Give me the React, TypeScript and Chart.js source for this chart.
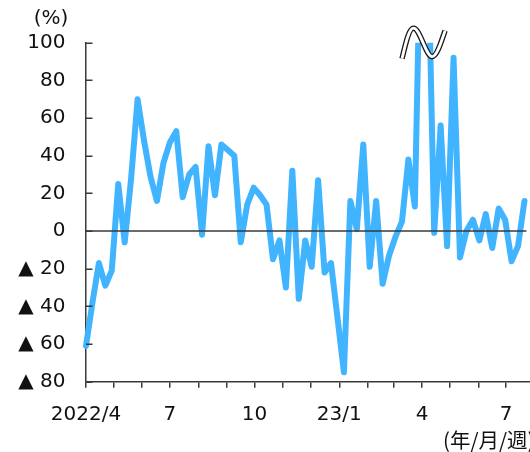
import React, { useEffect, useRef } from 'react';
import { Chart, registerables } from 'chart.js';

Chart.register(...registerables);

// Weekly series, first week starting 2022-04-01 (% change, values above 100 run off the broken axis)
const START_DATE = '2022-04-01';
const END_DATE = '2023-07-27';
const WEEKLY_CHANGE = [
  -61, -38, -17, -29, -21, 25, -6, 28, 70, 48,
  29, 16, 36, 47, 53, 18, 30, 34, -2, 45,
  19, 46, 43, 40, -6, 14, 23, 19, 14, -15,
  -5, -30, 32, -36, -5, -19, 27, -22, -17, -46,
  -75, 16, 1, 46, -19, 16, -28, -13, -3, 5,
  38, 13, 180, 160, -1, 56, -8, 92, -14, 0,
  6, -5, 9, -9, 12, 6, -16, -8, 16,
];

// Month boundaries on the x axis and their labels
const MONTH_TICKS = [
  '2022-04-01', '2022-05-01', '2022-06-01', '2022-07-01', '2022-08-01', '2022-09-01',
  '2022-10-01', '2022-11-01', '2022-12-01', '2023-01-01', '2023-02-01', '2023-03-01',
  '2023-04-01', '2023-05-01', '2023-06-01', '2023-07-01',
];
const MONTH_LABELS = ['2022/4', '', '', '7', '', '', '10', '', '', '23/1', '', '', '4', '', '', '7'];

const Y_MIN = -80;
const Y_MAX = 100;
const Y_STEP = 20;
const Y_UNIT = '(%)';
const X_UNIT = '(年/月/週)';

const LINE_COLOR = 'rgb(64, 180, 255)';
const AXIS_COLOR = '#3a3a3a';
const TEXT_COLOR = '#111111';
const LATIN_FONT = 'DejaVu Sans';
const CJK_FONT = '"Noto Sans CJK JP"';

const DAY = 86400000;
const dayOf = (iso: string) => (Date.parse(iso) - Date.parse(START_DATE)) / DAY;

const points = WEEKLY_CHANGE.map((v, i) => ({ x: i * 7, y: v }));
const lastDay = (WEEKLY_CHANGE.length - 1) * 7;
// the weeks that run past the top of the axis
const breakWeeks = WEEKLY_CHANGE.map((v, i) => (v > Y_MAX ? i : -1)).filter((i) => i >= 0);

const decorations = {
  id: 'decorations',
  afterDatasetsDraw(chart: any) {
    const { ctx, chartArea, scales } = chart;
    const xs = scales.x;
    const ys = scales.y;
    ctx.save();

    // zero line over the series
    const y0 = ys.getPixelForValue(0);
    ctx.strokeStyle = AXIS_COLOR;
    ctx.lineWidth = 1.5;
    ctx.beginPath();
    ctx.moveTo(chartArea.left, y0);
    ctx.lineTo(xs.getPixelForValue(lastDay) + 2, y0);
    ctx.stroke();

    // inward tick marks on the value axis
    ctx.beginPath();
    for (const t of ys.ticks) {
      const py = Math.round(ys.getPixelForValue(t.value)) + 0.25;
      ctx.moveTo(chartArea.left, py);
      ctx.lineTo(chartArea.left + 6.5, py);
    }
    ctx.stroke();

    // axis break mark over the clipped weeks
    if (breakWeeks.length) {
      const first = xs.getPixelForValue(breakWeeks[0] * 7);
      const last = xs.getPixelForValue(breakWeeks[breakWeeks.length - 1] * 7);
      const cx = (first + last) / 2 - 1;
      const cy = ys.getPixelForValue(Y_MAX);
      const wave = () => {
        ctx.beginPath();
        ctx.moveTo(cx - 21.5, cy + 16);
        ctx.bezierCurveTo(cx - 18.5, cy + 4, cx - 15, cy - 14.5, cx - 10, cy - 14.5);
        ctx.bezierCurveTo(cx - 3.5, cy - 14.5, cx + 2.5, cy + 14, cx + 8.5, cy + 14);
        ctx.bezierCurveTo(cx + 13.5, cy + 14, cx + 18, cy - 2, cx + 21.5, cy - 12);
      };
      ctx.lineCap = 'butt';
      wave();
      ctx.strokeStyle = '#1a1a1a';
      ctx.lineWidth = 5.5;
      ctx.stroke();
      wave();
      ctx.strokeStyle = '#ffffff';
      ctx.lineWidth = 2.8;
      ctx.stroke();
    }
    ctx.restore();
  },
  afterDraw(chart: any) {
    const { ctx, chartArea } = chart;
    ctx.save();
    ctx.fillStyle = TEXT_COLOR;
    ctx.font = `20px ${LATIN_FONT}`;
    ctx.textAlign = 'center';
    ctx.textBaseline = 'middle';
    ctx.fillText(Y_UNIT, chartArea.left - 35, chartArea.top - 24);

    ctx.font = `20.5px ${CJK_FONT}`;
    ctx.textAlign = 'left';
    ctx.textBaseline = 'alphabetic';
    ctx.fillText(X_UNIT, chartArea.right - 87, chart.height - 4);
    ctx.restore();
  },
};

export default function App() {
  const canvasRef = useRef<HTMLCanvasElement | null>(null);

  useEffect(() => {
    if (!canvasRef.current) return;
    const chart = new Chart(canvasRef.current, {
      type: 'line',
      data: {
        datasets: [
          {
            data: points,
            borderColor: LINE_COLOR,
            borderWidth: 6,
            borderCapStyle: 'round',
            borderJoinStyle: 'round',
            pointRadius: 0,
            pointHoverRadius: 0,
            tension: 0,
            fill: false,
            clip: { left: 6, top: 0, right: 6, bottom: 6 },
          } as any,
        ],
      },
      options: {
        animation: false,
        responsive: false,
        devicePixelRatio: 1,
        events: [],
        layout: { padding: { top: 42.7, right: 0, bottom: 0, left: 0 } },
        plugins: {
          legend: { display: false },
          tooltip: { enabled: false },
        },
        scales: {
          x: {
            type: 'linear',
            min: 0,
            max: dayOf(END_DATE),
            afterBuildTicks: (scale: any) => {
              scale.ticks = MONTH_TICKS.map((d) => ({ value: dayOf(d) }));
            },
            afterFit: (scale: any) => {
              scale.height = 70.3;
            },
            grid: {
              display: true,
              drawOnChartArea: false,
              drawTicks: true,
              tickLength: 6,
              color: AXIS_COLOR,
              lineWidth: 1.5,
            },
            border: { display: true, color: AXIS_COLOR, width: 1.5 },
            ticks: {
              autoSkip: false,
              maxRotation: 0,
              minRotation: 0,
              padding: 15,
              color: TEXT_COLOR,
              font: { family: LATIN_FONT, size: 20 },
              callback: (_v: any, i: number) => MONTH_LABELS[i] ?? '',
            },
          },
          y: {
            type: 'linear',
            min: Y_MIN,
            max: Y_MAX,
            afterFit: (scale: any) => {
              scale.width = 86;
            },
            grid: { display: true, drawOnChartArea: false, drawTicks: false },
            border: { display: true, color: AXIS_COLOR, width: 1.5 },
            ticks: {
              stepSize: Y_STEP,
              padding: 20.5,
              color: TEXT_COLOR,
              font: { family: LATIN_FONT, size: 20 },
              callback: (v: any) => (Number(v) < 0 ? `▲ ${Math.abs(Number(v))}` : String(v)),
            },
          },
        },
      },
      plugins: [decorations],
    });
    return () => chart.destroy();
  }, []);

  return (
    <div style={{ position: 'fixed', left: 0, top: 0, width: 530, height: 452, background: '#ffffff' }}>
      <canvas ref={canvasRef} width={530} height={452} style={{ display: 'block' }} />
    </div>
  );
}
